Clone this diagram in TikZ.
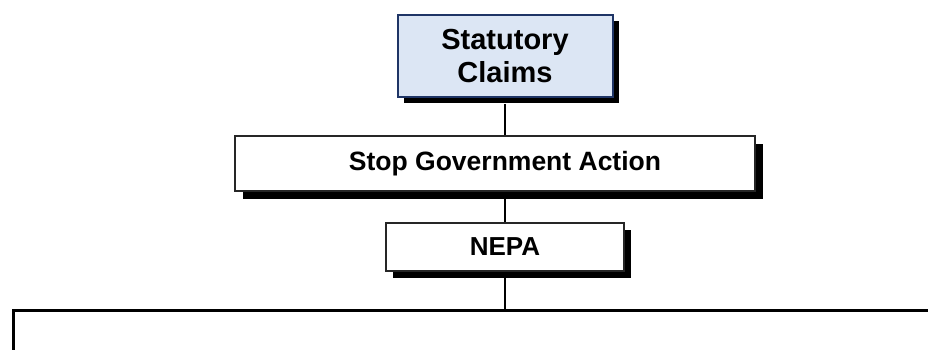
\documentclass[tikz,border=0pt]{standalone}
\usepackage{fontspec}
\setmainfont{Liberation Sans}
\usetikzlibrary{shadows}
\definecolor{claimblue}{HTML}{DCE6F4}
\definecolor{claimedge}{HTML}{1F3566}

\begin{document}
\begin{tikzpicture}[x=1pt,y=-1pt,
  every node/.style={draw=black!85,line width=1.6pt,fill=white,inner sep=0,
    font=\bfseries,align=center},
  shadowbox/.style={drop shadow={shadow xshift=#1pt,shadow yshift=-#1pt,
    opacity=1,fill=black}},
  link/.style={line width=2.2pt}]
\useasboundingbox (0,0) rectangle (928,350);
\clip (0,0) rectangle (928,350);

\node[fill=claimblue,draw=claimedge,line width=2pt,shadowbox=6,
  minimum width=215,minimum height=82,font=\bfseries\fontsize{29}{33}\selectfont]
  (claims) at (505,56) {Statutory\\Claims};
\node[shadowbox=8,minimum width=520,minimum height=55,
  font=\bfseries\fontsize{26.5}{30}\selectfont]
  (stop) at (495,163.5) {\hspace*{20pt}Stop Government Action};
\node[shadowbox=7,minimum width=238,minimum height=48,
  font=\bfseries\fontsize{26}{30}\selectfont]
  (nepa) at (505,247) {NEPA};
% lower box runs off the page
\node[draw=black,line width=3pt,minimum width=960,minimum height=120,anchor=north west]
  (lower) at (12,309) {};

\draw[link] (claims.south) ++(0,6) -- (claims.south |- stop.north);
\draw[link] (nepa.north) -- (nepa.north |- stop.south);
\draw[link] (nepa.south) -- (nepa.south |- lower.north);
\end{tikzpicture}
\end{document}
